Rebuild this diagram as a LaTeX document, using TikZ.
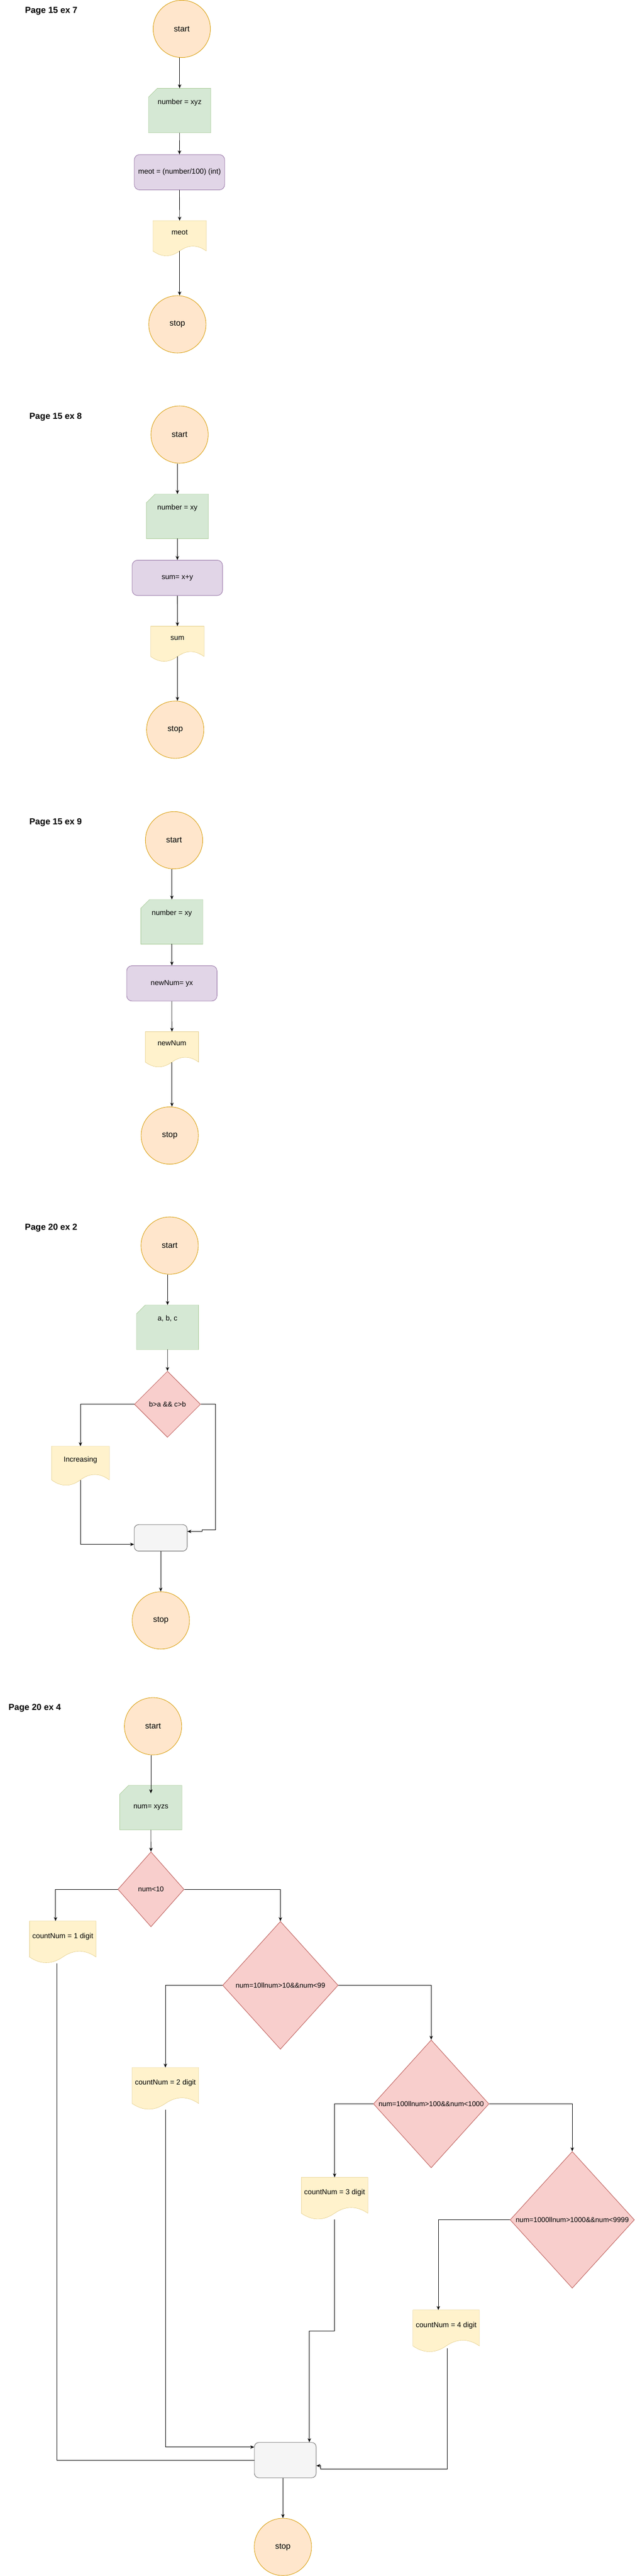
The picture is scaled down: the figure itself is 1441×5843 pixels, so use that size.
\documentclass[tikz,border=0pt]{standalone}
\usepackage{fontspec}
\setmainfont{Liberation Sans}
\usetikzlibrary{shapes.geometric,arrows.meta,backgrounds,calc}
\definecolor{termfill}{HTML}{FFE6CC}
\definecolor{termstroke}{HTML}{D79B00}
\definecolor{cardfill}{HTML}{D5E8D4}
\definecolor{cardstroke}{HTML}{82B366}
\definecolor{procfill}{HTML}{E1D5E7}
\definecolor{procstroke}{HTML}{9673A6}
\definecolor{docfill}{HTML}{FFF2CC}
\definecolor{docstroke}{HTML}{D6B656}
\definecolor{decfill}{HTML}{F8CECC}
\definecolor{decstroke}{HTML}{B85450}
\definecolor{boxfill}{HTML}{F5F5F5}
\definecolor{boxstroke}{HTML}{666666}
\tikzset{
  every node/.style={font=\fontsize{16.5}{20}\selectfont},
  title/.style={anchor=west,font=\bfseries\fontsize{19.8}{24}\selectfont},
  terminal/.style={circle,draw=termstroke,fill=termfill,minimum size=130pt,inner sep=0pt,font=\fontsize{18.5}{22}\selectfont},
  card/.style={rectangle,minimum width=140pt,minimum height=100pt,inner sep=0pt},
  cardtop/.style={card,text height=12pt,text depth=41pt},
  cardline/.style={draw=cardstroke,fill=cardfill},
  procbox/.style={rectangle,rounded corners=12pt,draw=procstroke,fill=procfill,minimum width=205pt,minimum height=80pt},
  docbox/.style={rectangle,minimum width=150pt,minimum height=95pt,inner sep=0pt,text height=12pt,text depth=30pt},
  docline/.style={draw=docstroke,fill=docfill},
  decision/.style={diamond,draw=decstroke,fill=decfill,inner sep=0pt,font=\fontsize{16}{19}\selectfont},
  emptybox/.style={rectangle,rounded corners=10pt,draw=boxstroke,fill=boxfill,minimum width=140pt,minimum height=80pt},
  arr/.style={-{Stealth[length=9pt,width=7.5pt]}}
}
\newcommand{\cardshape}[1]{%
  \path[cardline] ([xshift=20pt]#1.north west) -- (#1.north east) -- (#1.south east)
    -- (#1.south west) -- ([yshift=-20pt]#1.north west) -- cycle;}
\newcommand{\docshape}[1]{%
  \path[docline] let \p1=(#1.north west), \p2=(#1.south east) in
    (\x1,\y1) -- (\x2,\y1) -- (\x2,{\y2+0.15*(\y1-\y2)})
    .. controls ({\x1+0.8333*(\x2-\x1)},{\y2+0.33*(\y1-\y2)}) and ({\x1+0.6667*(\x2-\x1)},{\y2+0.33*(\y1-\y2)})
    .. ({\x1+0.5*(\x2-\x1)},{\y2+0.15*(\y1-\y2)})
    .. controls ({\x1+0.3333*(\x2-\x1)},{\y2-0.03*(\y1-\y2)}) and ({\x1+0.1667*(\x2-\x1)},{\y2-0.03*(\y1-\y2)})
    .. (\x1,{\y2+0.15*(\y1-\y2)}) -- cycle;}
\begin{document}
\begin{tikzpicture}[x=1pt,y=-1pt,line width=1pt]
      \node[title] (h7) at (53,24.6) {Page 15 ex 7};
      \node[terminal] (s7) at (412.5,65) {start};
      \node[cardtop] (c7) at (407.6,250.3) {number = xyz};
      \node[procbox] (p7) at (407.3,390.2) {meot = (number/100) (int)};
      \node[docbox,minimum width=120pt,minimum height=80pt] (d7) at (407.6,540.5) {meot};
      \node[terminal] (e7) at (402.5,735.2) {stop};

      \node[title] (h8) at (63,945.5) {Page 15 ex 8};
      \node[terminal] (s8) at (407.5,985.3) {start};
      \node[cardtop] (c8) at (402.6,1170.7) {number = xy};
      \node[procbox] (p8) at (402.5,1310.3) {sum= x+y};
      \node[docbox,minimum width=120pt,minimum height=80pt] (d8) at (402.6,1460.4) {sum};
      \node[terminal] (e8) at (397.6,1654.8) {stop};

      \node[title] (h9) at (63,1865) {Page 15 ex 9};
      \node[terminal] (s9) at (395,1905.5) {start};
      \node[cardtop] (c9) at (390,2090.5) {number = xy};
      \node[procbox] (p9) at (390,2230.2) {newNum= yx};
      \node[docbox,minimum width=120pt,minimum height=80pt] (d9) at (390.2,2380.4) {newNum};
      \node[terminal] (e9) at (385.2,2575.3) {stop};

      \node[title] (h2) at (52.8,2785) {Page 20 ex 2};
      \node[terminal] (s2) at (385,2825) {start};
      \node[cardtop] (c2) at (380.2,3010.3) {a, b, c};
      \node[decision,minimum width=150pt,minimum height=150pt] (q2) at (380,3185) {b>a \&\& c>b};
      \node[docbox,minimum width=130pt,minimum height=89pt] (d2) at (182.5,3325) {Increasing};
      \node[emptybox,minimum width=120pt,minimum height=60pt] (b2) at (364.7,3488) {};
      \node[terminal] (e2) at (365,3675.3) {stop};

      \node[title] (h4) at (15.6,3874.6) {Page 20 ex 4};
      \node[terminal] (s4) at (347.3,3915.3) {start};
      \node[card] (c4) at (342.4,4100) {num= xyzs};
      \node[decision,minimum width=150pt,minimum height=170pt] (q4a) at (342.6,4285.3) {num<10};
      \node[docbox] (d4a) at (142.5,4405.2) {countNum = 1 digit};
      \node[decision,minimum width=262pt,minimum height=290pt] (q4b) at (636.3,4503) {num=10llnum>10\&\&num<99};
      \node[docbox] (d4b) at (375.3,4737.5) {countNum = 2 digit};
      \node[decision,minimum width=262pt,minimum height=290pt] (q4c) at (978.5,4772) {num=100llnum>100\&\&num<1000};
      \node[docbox] (d4c) at (759.3,4986.5) {countNum = 3 digit};
      \node[decision,minimum width=282pt,minimum height=310pt] (q4d) at (1298.6,5035) {num=1000llnum>1000\&\&num<9999};
      \node[docbox] (d4d) at (1012.5,5287.5) {countNum = 4 digit};
      \node[emptybox] (b4) at (647.4,5580) {};
      \node[terminal] (e4) at (642,5777) {stop};

      \begin{scope}[on background layer]
        \fill[white] (0,0) rectangle (1441,5843);
        \foreach \nd in {c7,c8,c9,c2,c4} {\cardshape{\nd}}
        \foreach \nd in {d7,d8,d9,d2,d4a,d4b,d4c,d4d} {\docshape{\nd}}
      \end{scope}

      \begin{scope}[arr]
        \draw (s7.south -| c7.north) to (c7.north);
        \draw (c7.south) to (p7.north);
        \draw (p7.south) to (d7.north);
        \draw ([yshift=12pt]d7.south) to (d7.south |- e7.north);

        \draw (s8.south -| c8.north) to (c8.north);
        \draw (c8.south) to (p8.north);
        \draw (p8.south) to (d8.north);
        \draw ([yshift=12pt]d8.south) to (d8.south |- e8.north);

        \draw (s9.south -| c9.north) to (c9.north);
        \draw (c9.south) to (p9.north);
        \draw (p9.south) to (d9.north);
        \draw ([yshift=12pt]d9.south) to (d9.south |- e9.north);

        \draw (s2.south -| c2.north) to (c2.north);
        \draw (c2.south) to (q2.north);
        \draw (q2.west) -| (d2.north);
        \draw (q2.east) -- ++(33,0) -- ++(0,285) -- ++(-30,0) -- ++(0,3.4) -- ([yshift=14.6pt]b2.east);
        \draw ([yshift=13.4pt]d2.south) |- ([yshift=-14.8pt]b2.west);
        \draw (b2.south) to (b2.south |- e2.north);

        \draw (s4.south -| c4.north) to ([yshift=-18pt]c4.north);
        \draw (c4.south) to (q4a.north);
        \draw (q4a.west) -| ([xshift=-16.5pt]d4a.north);
        \draw (q4a.east) -| (q4b.north);
        \draw (q4b.west) -| (d4b.north);
        \draw (q4b.east) -| (q4c.north);
        \draw (q4c.west) -| (d4c.north);
        \draw (q4c.east) -| (q4d.north);
        \draw (q4d.west) -| ([xshift=-17.8pt]d4d.north);
        \draw[-] ([xshift=-13.2pt]d4a.south) |- (b4.west);
        \draw (d4b.south) |- ([yshift=29.5pt]b4.west);
        \draw (d4c.south) -- ++(0,253) -| ([xshift=54.6pt]b4.north);
        \draw ([xshift=2.2pt,yshift=9pt]d4d.south) |- ([xshift=9.3pt,yshift=-20pt]b4.east) -- ++(0,-7.3) -- ([yshift=-12.7pt]b4.east);
        \draw (b4.south -| e4.north) to (e4.north);
      \end{scope}
\end{tikzpicture}
\end{document}
